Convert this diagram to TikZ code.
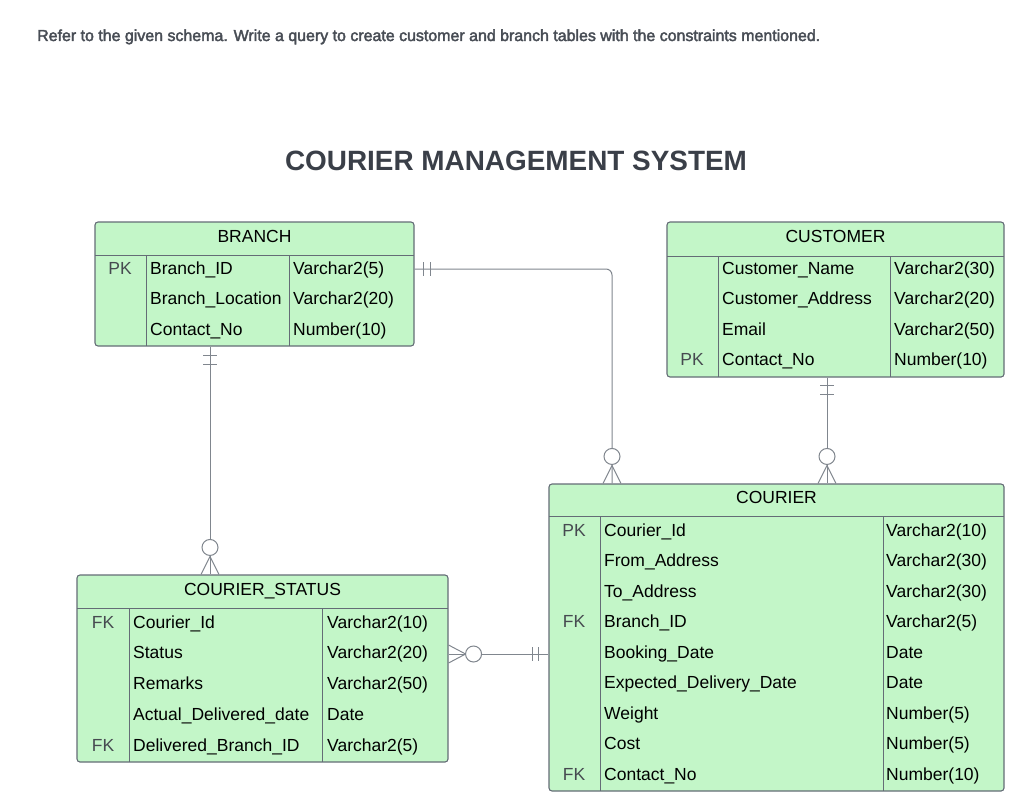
\documentclass[tikz,border=0pt]{standalone}
\usepackage{fontspec}
\setmainfont{Liberation Sans}
\newfontfamily\askfont[FakeBold=2.5]{Liberation Sans}
\usepackage{graphicx}
\usetikzlibrary{calc}

\definecolor{entfill}{RGB}{195,246,200}
\definecolor{entline}{RGB}{100,108,118}
\definecolor{relline}{RGB}{128,134,142}
\definecolor{keytext}{RGB}{70,74,80}
\definecolor{titletext}{RGB}{58,63,72}
\definecolor{asktext}{RGB}{72,77,85}

\tikzset{
  entity/.style={draw=entline, fill=entfill, line width=1.1pt, rounded corners=3pt, inner sep=0pt},
  gridline/.style={draw=entline, line width=0.9pt},
  rel/.style={draw=relline, line width=1pt},
  cell/.style={anchor=base west, inner sep=0pt, font=\fontsize{17.5}{20}\selectfont},
  keycell/.style={anchor=base, inner sep=0pt, text=keytext, font=\fontsize{17.5}{20}\selectfont},
  headcell/.style={anchor=base, inner sep=0pt, font=\fontsize{17.5}{20}\selectfont},
}

\begin{document}
\begin{tikzpicture}[x=1pt,y=-1pt] % 1 unit = 1 px of the sheet
\useasboundingbox (0,0) rectangle (1033,792);

% question and title
\node[anchor=base west, inner sep=0pt, text=asktext] (ask) at (37,41)
  {\resizebox{783pt}{!}{\askfont\fontsize{15}{18}\selectfont Refer to the given schema. Write a query to create customer and branch tables with the constraints mentioned.}};
\node[anchor=base, inner sep=0pt, text=titletext, font=\fontsize{27.9}{32}\selectfont\bfseries] (title) at (516,170) {COURIER MANAGEMENT SYSTEM};

% BRANCH
\node[entity, minimum width=319pt, minimum height=124pt] (branch) at (254.5,284) {};
\draw[gridline] (95,255) -- (414,255);
\draw[gridline] (146,255) -- (146,346);
\draw[gridline] (289,255) -- (289,346);
\node[headcell] (brh) at (254.5,242) {BRANCH};
\foreach \k/\n/\t [count=\i] in {PK/Branch\_ID/Varchar2(5), /Branch\_Location/Varchar2(20), /Contact\_No/Number(10)} {
  \pgfmathsetmacro\yb{255+(\i-1)*30.4+19.5}
  \node[keycell] (brk\i) at (120,\yb) {\k};
  \node[cell] (brn\i) at (150,\yb) {\n};
  \node[cell] (brt\i) at (293,\yb) {\t};
}

% CUSTOMER
\node[entity, minimum width=337pt, minimum height=155pt] (customer) at (835.5,299.5) {};
\draw[gridline] (667,256) -- (1004,256);
\draw[gridline] (718,256) -- (718,377);
\draw[gridline] (890,256) -- (890,377);
\node[headcell] (cuh) at (835.5,242) {CUSTOMER};
\foreach \k/\n/\t [count=\i] in {/Customer\_Name/Varchar2(30), /Customer\_Address/Varchar2(20), /Email/Varchar2(50), PK/Contact\_No/Number(10)} {
  \pgfmathsetmacro\yb{256+(\i-1)*30.3+18.5}
  \node[keycell] (cuk\i) at (692,\yb) {\k};
  \node[cell] (cun\i) at (722,\yb) {\n};
  \node[cell] (cut\i) at (894,\yb) {\t};
}

% COURIER
\node[entity, minimum width=455pt, minimum height=307pt] (courier) at (776.5,637.5) {};
\draw[gridline] (549,516) -- (1004,516);
\draw[gridline] (600,516) -- (600,791);
\draw[gridline] (883,516) -- (883,791);
\node[headcell] (coh) at (776.5,503) {COURIER};
\foreach \k/\n/\t [count=\i] in {PK/Courier\_Id/Varchar2(10), /From\_Address/Varchar2(30), /To\_Address/Varchar2(30), FK/Branch\_ID/Varchar2(5), /Booking\_Date/Date, /Expected\_Delivery\_Date/Date, /Weight/Number(5), /Cost/Number(5), FK/Contact\_No/Number(10)} {
  \pgfmathsetmacro\yb{516+(\i-1)*30.55+20}
  \node[keycell] (cok\i) at (574,\yb) {\k};
  \node[cell] (con\i) at (604,\yb) {\n};
  \node[cell] (cot\i) at (886,\yb) {\t};
}

% COURIER_STATUS
\node[entity, minimum width=371pt, minimum height=187pt] (status) at (262.5,668.5) {};
\draw[gridline] (77,608) -- (448,608);
\draw[gridline] (129,608) -- (129,762);
\draw[gridline] (322,608) -- (322,762);
\node[headcell] (sth) at (262.5,595) {COURIER\_STATUS};
\foreach \k/\n/\t [count=\i] in {FK/Courier\_Id/Varchar2(10), /Status/Varchar2(20), /Remarks/Varchar2(50), /Actual\_Delivered\_date/Date, FK/Delivered\_Branch\_ID/Varchar2(5)} {
  \pgfmathsetmacro\yb{608+(\i-1)*30.8+20}
  \node[keycell] (stk\i) at (103,\yb) {\k};
  \node[cell] (stn\i) at (133,\yb) {\n};
  \node[cell] (stt\i) at (327,\yb) {\t};
}

% branch -> courier
\coordinate (brE) at (branch.east |- 0,269);
\coordinate (coN1) at (courier.north -| 612,0);
\draw[rel, rounded corners=6pt] (brE) -| (coN1);
\draw[rel] ($(brE)+(9,-7)$) -- ++(0,14);
\draw[rel] ($(brE)+(16,-7)$) -- ++(0,14);
\draw[rel, fill=white] ($(coN1)+(0,-27)$) circle (8);
\draw[rel] ($(coN1)+(0,-18)$) -- ++(-9,18);
\draw[rel] ($(coN1)+(0,-18)$) -- ++(9,18);

% customer -> courier
\coordinate (cuS) at (customer.south -| 827,0);
\coordinate (coN2) at (courier.north -| 827,0);
\draw[rel] (cuS) -- (coN2);
\draw[rel] ($(cuS)+(-7,8)$) -- ++(14,0);
\draw[rel] ($(cuS)+(-7,17)$) -- ++(14,0);
\draw[rel, fill=white] ($(coN2)+(0,-27)$) circle (8);
\draw[rel] ($(coN2)+(0,-18)$) -- ++(-9,18);
\draw[rel] ($(coN2)+(0,-18)$) -- ++(9,18);

% branch -> courier_status
\coordinate (brS) at (branch.south -| 210,0);
\coordinate (stN) at (status.north -| 210,0);
\draw[rel] (brS) -- (stN);
\draw[rel] ($(brS)+(-7,9)$) -- ++(14,0);
\draw[rel] ($(brS)+(-7,18)$) -- ++(14,0);
\draw[rel, fill=white] ($(stN)+(0,-27)$) circle (8);
\draw[rel] ($(stN)+(0,-18)$) -- ++(-9,18);
\draw[rel] ($(stN)+(0,-18)$) -- ++(9,18);

% courier -> courier_status
\coordinate (stE) at (status.east |- 0,654);
\coordinate (coW) at (courier.west |- 0,654);
\draw[rel] (stE) -- (coW);
\draw[rel] ($(coW)+(-16,-7)$) -- ++(0,14);
\draw[rel] ($(coW)+(-10,-7)$) -- ++(0,14);
\draw[rel, fill=white] ($(stE)+(25,0)$) circle (8);
\draw[rel] ($(stE)+(17,0)$) -- ++(-17,-9);
\draw[rel] ($(stE)+(17,0)$) -- ++(-17,9);

\end{tikzpicture}
\end{document}
